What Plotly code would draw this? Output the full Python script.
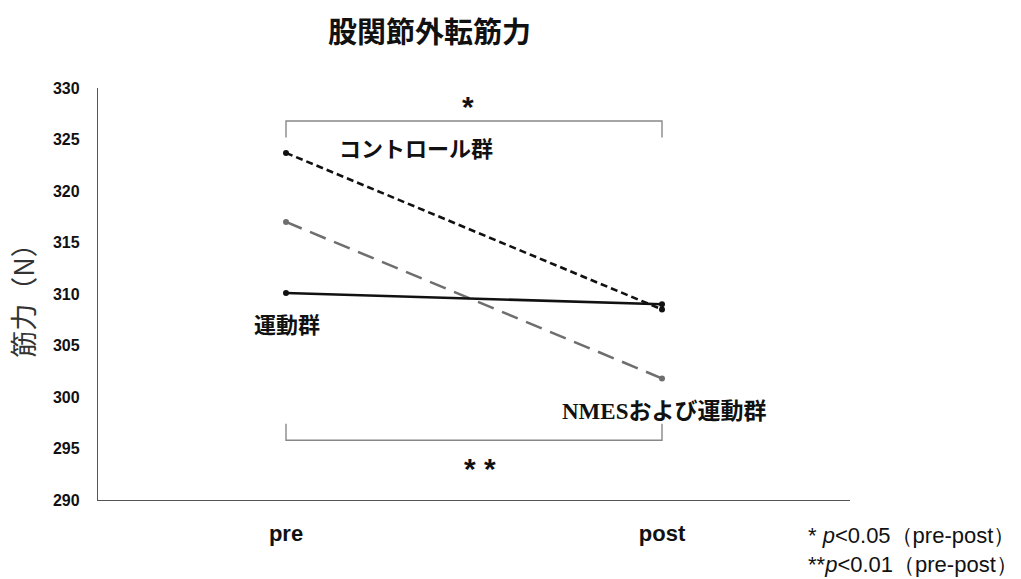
import plotly.graph_objects as go

# Hip abduction strength (N), measured before and after the intervention
timepoints = ["pre", "post"]
exercise_group = [310.1, 309.0]      # 運動群
control_group = [323.7, 308.5]       # コントロール群
nmes_group = [317.0, 301.8]          # NMESおよび運動群

y_ticks = [290, 295, 300, 305, 310, 315, 320, 325, 330]

JP = "Noto Sans CJK JP"
SANS = "Liberation Sans, Arial"
SERIF = "Liberation Serif, Times New Roman"

fig = go.Figure()

fig.add_trace(go.Scatter(
    x=timepoints, y=control_group, mode="lines+markers",
    line=dict(color="#111111", width=2.6, dash="7px,4px"),
    marker=dict(size=6, color="#111111"), name="コントロール群"))
fig.add_trace(go.Scatter(
    x=timepoints, y=nmes_group, mode="lines+markers",
    line=dict(color="#6e6e6e", width=2.6, dash="17px,9px"),
    marker=dict(size=6, color="#6e6e6e"), name="NMESおよび運動群"))
fig.add_trace(go.Scatter(
    x=timepoints, y=exercise_group, mode="lines+markers",
    line=dict(color="#111111", width=2.6),
    marker=dict(size=6, color="#111111"), name="運動群"))

# significance brackets between pre and post
bracket = dict(color="#888888", width=1.4)
fig.add_shape(type="path", xref="x", yref="y",
              path="M 0,325.2 L 0,326.8 L 1,326.8 L 1,325.2", line=bracket)
fig.add_shape(type="path", xref="x", yref="y",
              path="M 0,297.4 L 0,295.8 L 1,295.8 L 1,297.4", line=bracket)

annotations = [
    dict(x=0.484, y=328.2, text="<b>*</b>", font=dict(size=30, family=SANS, color="#111")),
    dict(x=0.516, y=293.1, text="<b>* *</b>", font=dict(size=30, family=SANS, color="#111")),
    dict(x=0.346, y=324.27, text="<b>コントロール群</b>", font=dict(size=22, family=JP, color="#111")),
    dict(x=0.003, y=307.18, text="<b>運動群</b>", font=dict(size=22, family=JP, color="#111")),
    dict(x=1.005, y=298.83,
         text=f"<b><span style='font-family:{SERIF}'>NMES</span>および運動群</b>",
         font=dict(size=23, family=JP, color="#111")),
]
for a in annotations:
    a.update(xref="x", yref="y", showarrow=False)
    fig.add_annotation(**a)

fig.add_annotation(xref="paper", yref="paper", x=0.441, y=1.0, yshift=58,
                   yanchor="middle", text="<b>股関節外転筋力</b>", showarrow=False,
                   font=dict(size=29, family=JP, color="#111"))
fig.add_annotation(xref="paper", yref="paper", x=1.0, y=0, xshift=170, yshift=-79,
                   xanchor="right", yanchor="bottom", align="left", showarrow=False,
                   text="* <i>p</i>&lt;0.05（pre-post）<br>**<i>p</i>&lt;0.01（pre-post）",
                   font=dict(size=22, family=SANS, color="#111"))

fig.update_layout(
    width=1021, height=579,
    margin=dict(l=98, r=171, t=88, b=79),
    paper_bgcolor="white", plot_bgcolor="white",
    showlegend=False,
    xaxis=dict(type="category", range=[-0.5, 1.5], showgrid=False,
               showline=True, linecolor="#555555", linewidth=1.4,
               ticks="", ticklabelstandoff=13,
               tickfont=dict(size=22, family=SANS, color="#111"),
               tickvals=timepoints, ticktext=[f"<b>{t}</b>" for t in timepoints]),
    yaxis=dict(range=[290, 330], showgrid=False, zeroline=False,
               showline=True, linecolor="#555555", linewidth=1.4,
               ticks="", ticklabelstandoff=14,
               tickvals=y_ticks, ticktext=[f"<b>{v}</b>" for v in y_ticks],
               tickfont=dict(size=16, family=SANS, color="#111"),
               title=dict(text="筋力（N）", standoff=10,
                          font=dict(size=27, family=JP, color="#333"))),
)

fig.write_html("out.html")
